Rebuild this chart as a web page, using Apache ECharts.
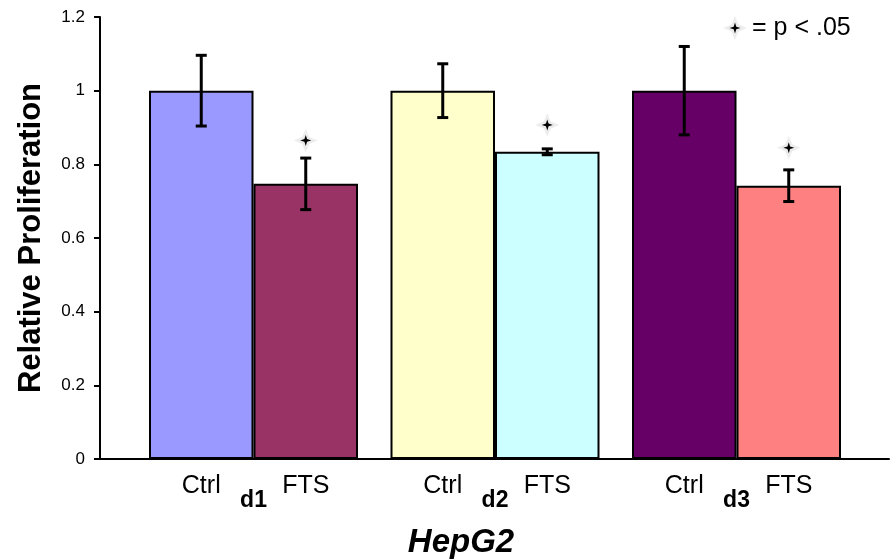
<!DOCTYPE html>
<html>
<head>
<meta charset="utf-8">
<script src="https://cdn.jsdelivr.net/npm/echarts@6/dist/echarts.min.js"></script>
<style>html,body{margin:0;padding:0;background:#fff;}#c{width:890px;height:560px;}</style>
</head>
<body>
<div id="c"></div>
<script>
// ---- data ----
const categories = ['d1', 'd2', 'd3'];
const groupLabels = ['Ctrl', 'FTS'];
const ctrlValues = [1, 1, 1];
const ctrlErr = [0.096, 0.073, 0.12];
const ftsValues = [0.747, 0.834, 0.742];
const ftsErr = [0.07, 0.008, 0.043];
const sigStarY = [0.865, 0.907, 0.845];
const legendText = '= p < .05';
const xTitle = 'HepG2';
const yTitle = 'Relative Proliferation';
const yMin = 0, yMax = 1.2, yStep = 0.2;

// ---- styles ----
const ctrlColors = ['#9999FF', '#FFFFCC', '#660066'];
const ftsColors = ['#993366', '#CCFFFF', '#FF8080'];
const FONT = 'Liberation Sans, Arial, sans-serif';
const BAR_W = 104.5;

function starPts(cx, cy, r, w) {
  return [[cx, cy - r], [cx + w, cy - w], [cx + r, cy], [cx + w, cy + w],
          [cx, cy + r], [cx - w, cy + w], [cx - r, cy], [cx - w, cy - w]];
}
function starShapes(cx, cy) {
  return [
    { type: 'polygon', shape: { points: starPts(cx, cy, 12, 3.5) },
      style: { fill: 'rgba(0,0,0,0.07)', shadowBlur: 6, shadowColor: 'rgba(0,0,0,0.12)' } },
    { type: 'polygon', shape: { points: starPts(cx, cy, 5.5, 1.3) },
      style: { fill: '#000' } }
  ];
}

const chart = echarts.init(document.getElementById('c'), null, { renderer: 'canvas' });

const errData = [];
categories.forEach((c, i) => {
  errData.push([i, ctrlValues[i], ctrlErr[i], -1]);
  errData.push([i, ftsValues[i], ftsErr[i], 1]);
});
const starData = categories.map((c, i) => [i, sigStarY[i], 1]);

const option = {
  animation: false,
  backgroundColor: '#fff',
  textStyle: { fontFamily: FONT },
  grid: [
    { left: 100, right: 1, top: 17, bottom: 101 },
    { left: 132.75, right: 32.75, top: 17, bottom: 101 }
  ],
  xAxis: [
    { gridIndex: 0, type: 'value', min: 0, max: 1,
      axisLine: { show: true, onZero: false, lineStyle: { color: '#000', width: 2 } },
      axisTick: { show: false }, axisLabel: { show: false }, splitLine: { show: false } },
    { gridIndex: 1, type: 'category', data: categories,
      axisLine: { show: false }, axisTick: { show: false },
      axisLabel: { margin: 30, fontSize: 23, fontWeight: 'bold', color: '#000', fontFamily: FONT } }
  ],
  yAxis: [
    { gridIndex: 0, type: 'value', min: yMin, max: yMax, interval: yStep,
      axisLine: { show: true, lineStyle: { color: '#000', width: 2 } },
      axisTick: { show: true, length: 6, lineStyle: { color: '#000', width: 2 } },
      axisLabel: { fontSize: 17, color: '#000', margin: 15, fontFamily: FONT },
      splitLine: { show: false },
      name: yTitle, nameLocation: 'middle', nameGap: 53,
      nameTextStyle: { fontSize: 31, fontWeight: 'bold', color: '#000', fontFamily: FONT } },
    { gridIndex: 1, type: 'value', min: yMin, max: yMax, interval: yStep, show: false }
  ],
  series: [
    { type: 'bar', name: groupLabels[0], xAxisIndex: 1, yAxisIndex: 1,
      barWidth: BAR_W, barGap: '0%',
      data: ctrlValues.map((v, i) => ({ value: v, itemStyle: { color: ctrlColors[i] } })),
      itemStyle: { borderColor: '#000', borderWidth: 2 },
      label: { show: true, position: 'bottom', distance: 15, formatter: groupLabels[0],
               fontSize: 25, color: '#000', fontFamily: FONT } },
    { type: 'bar', name: groupLabels[1], xAxisIndex: 1, yAxisIndex: 1,
      barWidth: BAR_W, barGap: '0%',
      data: ftsValues.map((v, i) => ({ value: v, itemStyle: { color: ftsColors[i] } })),
      itemStyle: { borderColor: '#000', borderWidth: 2 },
      label: { show: true, position: 'bottom', distance: 15, formatter: groupLabels[1],
               fontSize: 25, color: '#000', fontFamily: FONT } },
    { type: 'custom', xAxisIndex: 1, yAxisIndex: 1, z: 5, data: errData,
      renderItem: function (params, api) {
        const i = api.value(0), v = api.value(1), e = api.value(2), side = api.value(3);
        const x = api.coord([i, v])[0] + side * BAR_W / 2;
        const yHi = api.coord([i, v + e])[1];
        const yLo = api.coord([i, v - e])[1];
        const st = { stroke: '#000', lineWidth: 3 };
        const cap = 5.5;
        return { type: 'group', children: [
          { type: 'line', shape: { x1: x, y1: yHi, x2: x, y2: yLo }, style: st },
          { type: 'line', shape: { x1: x - cap, y1: yHi, x2: x + cap, y2: yHi }, style: st },
          { type: 'line', shape: { x1: x - cap, y1: yLo, x2: x + cap, y2: yLo }, style: st }
        ] };
      } },
    { type: 'custom', xAxisIndex: 1, yAxisIndex: 1, z: 6, data: starData,
      renderItem: function (params, api) {
        const i = api.value(0), v = api.value(1), side = api.value(2);
        const p = api.coord([i, v]);
        return { type: 'group', children: starShapes(p[0] + side * BAR_W / 2, p[1]) };
      } }
  ],
  graphic: [
    { type: 'group', children: starShapes(735, 28) },
    { type: 'text', left: 752, top: 16,
      style: { text: legendText, fontSize: 25, fill: '#000', fontFamily: FONT } },
    { type: 'text', x: 461, y: 543,
      style: { text: xTitle, fontSize: 33, fontWeight: 'bold', fontStyle: 'italic', fill: '#000',
               fontFamily: FONT, align: 'center', verticalAlign: 'middle' } }
  ]
};
chart.setOption(option);
</script>
</body>
</html>
